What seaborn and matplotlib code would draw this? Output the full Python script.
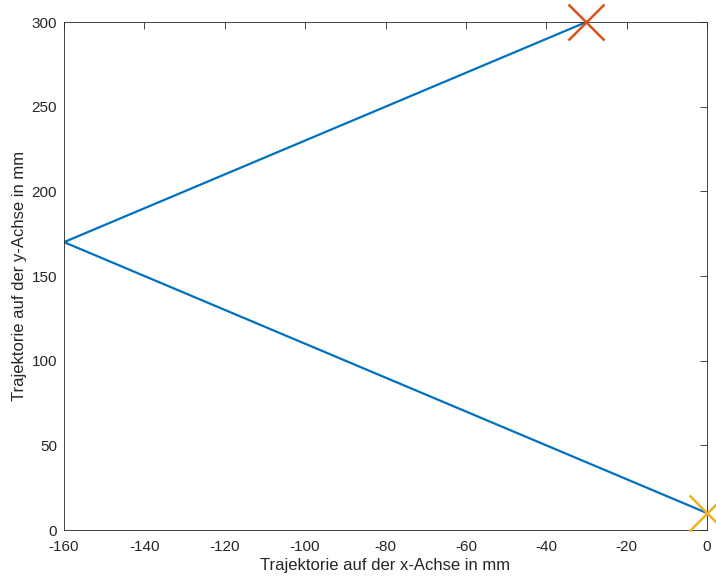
import matplotlib
matplotlib.use("Agg")
import matplotlib.pyplot as plt
import seaborn as sns
import pandas as pd

# Trajectory waypoints (mm)
traj_x = [0, -160, -30]
traj_y = [10, 170, 300]
start_point = (0, 10)
end_point = (-30, 300)

x_ticks = [-160, -140, -120, -100, -80, -60, -40, -20, 0]
y_ticks = [0, 50, 100, 150, 200, 250, 300]

sns.set_style("white")
plt.rcParams["font.family"] = ["Liberation Sans", "DejaVu Sans"]
plt.rcParams["axes.unicode_minus"] = False

fig = plt.figure(figsize=(7.16, 5.79), dpi=100)
ax = fig.add_axes([64 / 716, 1 - 530 / 579, 643 / 716, 508 / 579])

df = pd.DataFrame({"x": traj_x, "y": traj_y})
sns.lineplot(data=df, x="x", y="y", sort=False, ax=ax, color="#0072BD", linewidth=1.6)

ax.plot([end_point[0]], [end_point[1]], marker="x", markersize=26, markeredgewidth=1.8,
        color="#D95319", linestyle="none", clip_on=False, zorder=5)
ax.plot([start_point[0]], [start_point[1]], marker="x", markersize=26, markeredgewidth=1.8,
        color="#EDB120", linestyle="none", clip_on=False, zorder=5)

ax.set_xlim(-160, 0)
ax.set_ylim(0, 300)
ax.set_xticks(x_ticks)
ax.set_yticks(y_ticks)
ax.tick_params(direction="in", length=5, width=0.6, colors="#262626", labelsize=11,
               top=True, right=True, labeltop=False, labelright=False)
ax.tick_params(axis="x", pad=7)
ax.tick_params(axis="y", pad=5)
for s in ax.spines.values():
    s.set_color("#262626")
    s.set_linewidth(0.6)
    s.set_visible(True)

ax.set_xlabel("Trajektorie auf der x-Achse in mm", fontsize=12, color="#262626", labelpad=3)
ax.set_ylabel("Trajektorie auf der y-Achse in mm", fontsize=12, color="#262626", labelpad=3)

fig.savefig("out.png", dpi=100)
